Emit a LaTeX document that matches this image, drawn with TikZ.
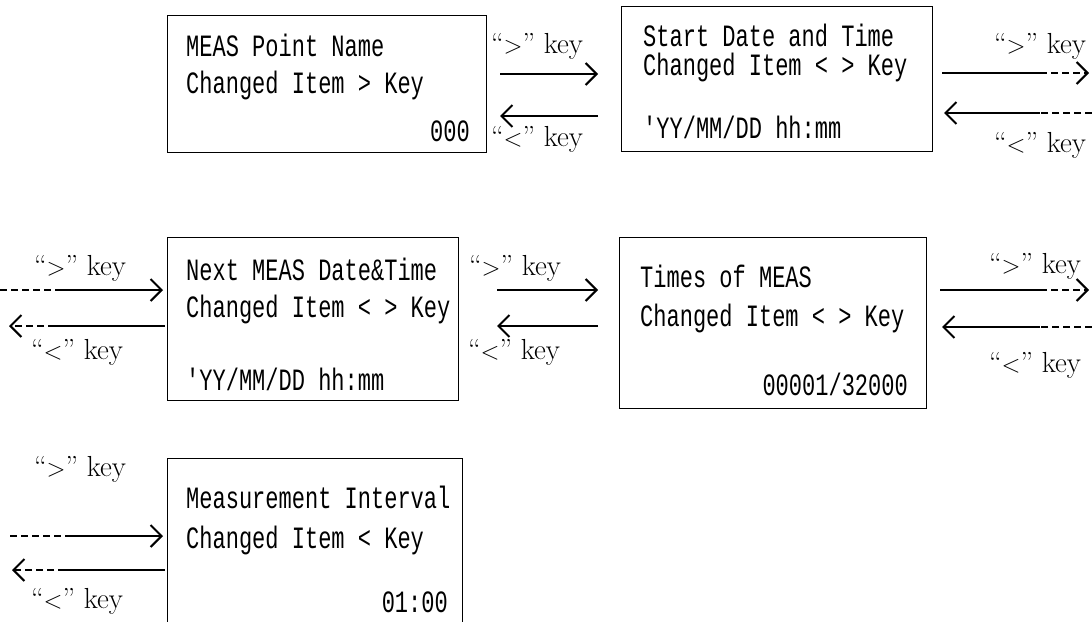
\documentclass[tikz,border=0pt]{standalone}
\usepackage{fontspec}
\newfontfamily\boxfont[FakeStretch=0.71,Ligatures=TeXOff]{Liberation Mono}
\usetikzlibrary{arrows.meta}
\begin{document}
\begin{tikzpicture}[x=1pt,y=-1pt,
  screen/.style={draw, line width=1.3pt, inner sep=0pt, anchor=north west},
  txt/.style={font=\boxfont\fontsize{31}{35}\selectfont, inner sep=0pt, text height=22pt, text depth=0pt},
  lbl/.style={font=\fontsize{29}{33}\selectfont, inner sep=0pt, text height=20pt, text depth=0pt},
  ln/.style={line width=1.8pt},
  dsh/.style={line width=1.3pt, dash pattern=on 7pt off 4pt},
  hd/.style={-{Straight Barb[length=11pt,width=22pt,line width=2pt]}}]
\useasboundingbox (0,0) rectangle (1092,621);

% ---------- row 1
\node[screen, minimum width=319pt, minimum height=137pt] (b1) at (167,15) {};
\node[txt, anchor=west] (b1l1) at (186,45) {MEAS Point Name};
\node[txt, anchor=west] (b1l2) at (186,82) {Changed Item > Key};
\node[txt, anchor=east] (b1l3) at (470,130) {000};

\node[screen, minimum width=311pt, minimum height=145pt] (b2) at (621,6) {};
\node[txt, anchor=west] (b2l1) at (643,35) {Start Date and Time};
\node[txt, anchor=west] (b2l2) at (643,64) {Changed Item < > Key};
\node[txt, anchor=west] (b2l3) at (643,127) {'YY/MM/DD hh:mm};

\node[lbl] (k1a) at (537,43) {``$>$'' key};
\node[lbl] (k1b) at (537,136) {``$<$'' key};
\coordinate (p1a) at (500,74); \coordinate (q1a) at (598,74);
\coordinate (p1b) at (598,116); \coordinate (q1b) at (500,116);
\draw[ln,hd] (p1a) -- (q1a);
\draw[ln,hd] (p1b) -- (q1b);

\node[lbl] (k2a) at (1040,43) {``$>$'' key};
\node[lbl] (k2b) at (1040,142) {``$<$'' key};
\coordinate (p2a) at (942,73); \coordinate (m2a) at (1040,73); \coordinate (q2a) at (1089,73);
\coordinate (p2b) at (1092,113); \coordinate (m2b) at (1040,113); \coordinate (q2b) at (944,113);
\draw[ln] (p2a) -- (m2a);
\draw[dsh,hd] (m2a) -- (q2a);
\draw[dsh] (p2b) -- (m2b);
\draw[ln,hd] (m2b) -- (q2b);

% ---------- row 2
\node[screen, minimum width=291pt, minimum height=163pt] (b3) at (167,237) {};
\node[txt, anchor=west] (b3l1) at (186,269) {Next MEAS Date\&Time};
\node[txt, anchor=west] (b3l2) at (186,306) {Changed Item < > Key};
\node[txt, anchor=west] (b3l3) at (186,379) {'YY/MM/DD hh:mm};

\node[screen, minimum width=307pt, minimum height=171pt] (b4) at (619,237) {};
\node[txt, anchor=west] (b4l1) at (640,276) {Times of MEAS};
\node[txt, anchor=west] (b4l2) at (640,315) {Changed Item < > Key};
\node[txt, anchor=east] (b4l3) at (908,384) {00001/32000};

\node[lbl] (k3a) at (80,265) {``$>$'' key};
\node[lbl] (k3b) at (77,349) {``$<$'' key};
\coordinate (p3a) at (0,290); \coordinate (m3a) at (55,290); \coordinate (q3a) at (163,290);
\coordinate (p3b) at (165,326); \coordinate (m3b) at (55,326); \coordinate (q3b) at (9,326);
\draw[dsh] (p3a) -- (m3a);
\draw[ln,hd] (m3a) -- (q3a);
\draw[ln] (p3b) -- (m3b);
\draw[dsh,hd] (m3b) -- (q3b);

\node[lbl] (k4a) at (515,265) {``$>$'' key};
\node[lbl] (k4b) at (514,349) {``$<$'' key};
\coordinate (p4a) at (497,290); \coordinate (q4a) at (598,290);
\coordinate (p4b) at (598,326); \coordinate (q4b) at (497,326);
\draw[ln,hd] (p4a) -- (q4a);
\draw[ln,hd] (p4b) -- (q4b);

\node[lbl] (k5a) at (1035,263) {``$>$'' key};
\node[lbl] (k5b) at (1035,362) {``$<$'' key};
\coordinate (p5a) at (940,290); \coordinate (m5a) at (1040,290); \coordinate (q5a) at (1089,290);
\coordinate (p5b) at (1092,327); \coordinate (m5b) at (1040,327); \coordinate (q5b) at (942,327);
\draw[ln] (p5a) -- (m5a);
\draw[dsh,hd] (m5a) -- (q5a);
\draw[dsh] (p5b) -- (m5b);
\draw[ln,hd] (m5b) -- (q5b);

% ---------- row 3
\node[screen, minimum width=295pt, minimum height=180pt] (b5) at (167,458) {};
\node[txt, anchor=west] (b5l1) at (186,497) {Measurement Interval};
\node[txt, anchor=west] (b5l2) at (186,537) {Changed Item < Key};
\node[txt, anchor=east] (b5l3) at (448,601) {01:00};

\node[lbl] (k6a) at (80,466) {``$>$'' key};
\node[lbl] (k6b) at (77,598) {``$<$'' key};
\coordinate (p6a) at (10,536); \coordinate (m6a) at (65,536); \coordinate (q6a) at (163,536);
\coordinate (p6b) at (165,570); \coordinate (m6b) at (65,570); \coordinate (q6b) at (12,570);
\draw[dsh] (p6a) -- (m6a);
\draw[ln,hd] (m6a) -- (q6a);
\draw[ln] (p6b) -- (m6b);
\draw[dsh,hd] (m6b) -- (q6b);
\end{tikzpicture}
\end{document}
